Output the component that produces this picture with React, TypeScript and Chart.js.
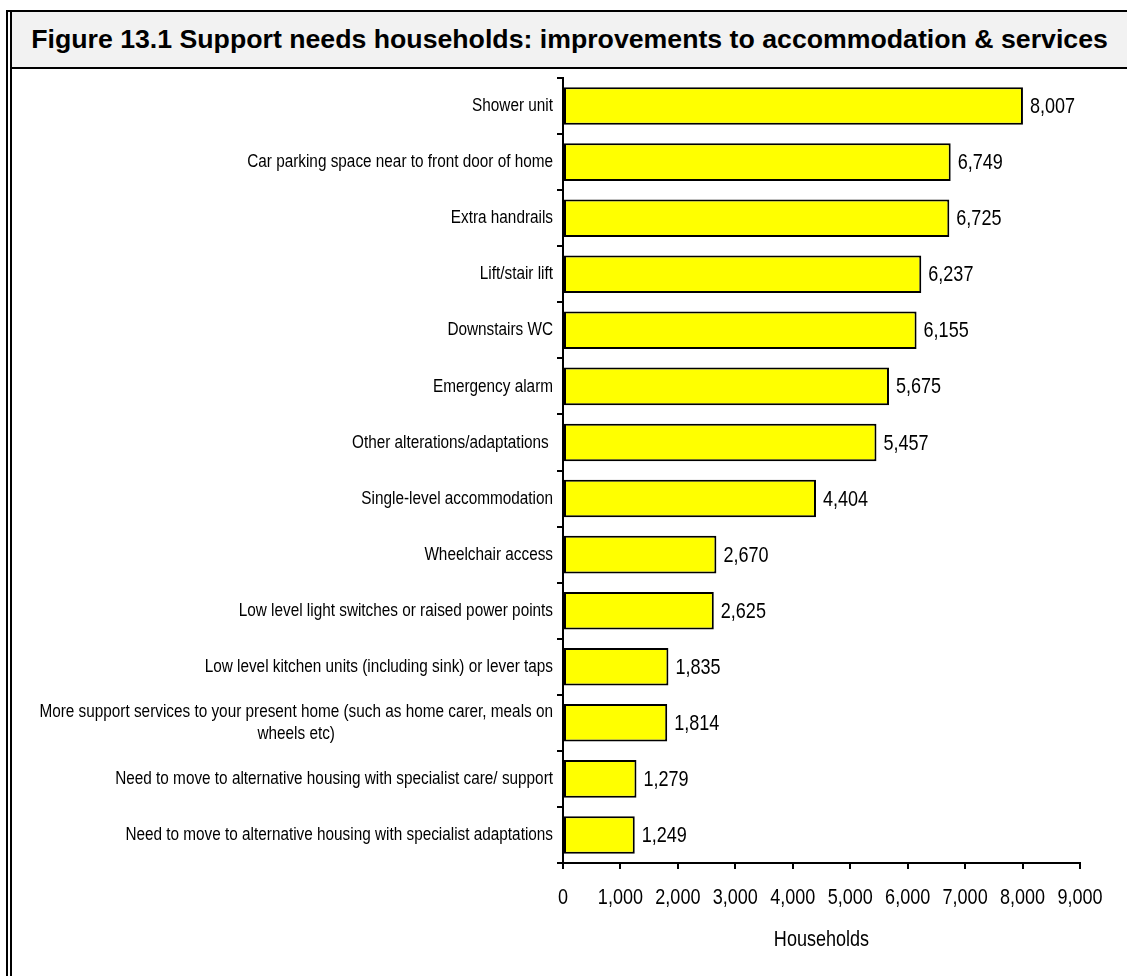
import React, { useEffect, useRef } from "react";
import { Chart, registerables } from "chart.js";

Chart.register(...registerables);

const FONT = "'Liberation Sans', Arial, Helvetica, sans-serif";
const NARROW = 0.82; // horizontal squeeze to mimic a narrow sans face

const titleText = "Figure 13.1 Support needs households: improvements to accommodation & services";
const axisTitle = "Households";

const categories: (string | string[])[] = [
  "Shower unit",
  "Car parking space near to front door of home",
  "Extra handrails",
  "Lift/stair lift",
  "Downstairs WC",
  "Emergency alarm",
  "Other alterations/adaptations ",
  "Single-level accommodation",
  "Wheelchair access",
  "Low level light switches or raised power points",
  "Low level kitchen units (including sink) or lever taps",
  ["More support services to your present home (such as home carer, meals on", "wheels etc)"],
  "Need to move to alternative housing with specialist care/ support",
  "Need to move to alternative housing with specialist adaptations",
];

const households = [8007, 6749, 6725, 6237, 6155, 5675, 5457, 4404, 2670, 2625, 1835, 1814, 1279, 1249];

const xTickValues = [0, 1000, 2000, 3000, 4000, 5000, 6000, 7000, 8000, 9000];

const fmt = (v: number) => v.toLocaleString("en-US");

function drawNarrow(ctx: CanvasRenderingContext2D, text: string, x: number, y: number, align: CanvasTextAlign) {
  ctx.save();
  ctx.translate(x, y);
  ctx.scale(NARROW, 1);
  ctx.textAlign = align;
  ctx.fillText(text, 0, 0);
  ctx.restore();
}

const labelPlugin = {
  id: "customLabels",
  afterDraw(chart: any) {
    const ctx = chart.ctx as CanvasRenderingContext2D;
    const yScale = chart.scales.y;
    const xScale = chart.scales.x;
    const meta = chart.getDatasetMeta(0);
    ctx.save();
    ctx.fillStyle = "#000";
    ctx.textBaseline = "middle";

    // category labels
    ctx.font = `18.7px ${FONT}`;
    const right = yScale.right - 6 - 4;
    categories.forEach((lab, i) => {
      const cy = yScale.getPixelForValue(i);
      if (Array.isArray(lab)) {
        const maxW = Math.max(...lab.map((l) => ctx.measureText(l).width)) * NARROW;
        const cx = right - maxW / 2;
        lab.forEach((l, k) => drawNarrow(ctx, l, cx, cy + (k - (lab.length - 1) / 2) * 21.5, "center"));
      } else {
        drawNarrow(ctx, lab, right, cy, "right");
      }
    });

    // value labels
    ctx.font = `22px ${FONT}`;
    meta.data.forEach((bar: any, i: number) => {
      drawNarrow(ctx, fmt(households[i]), bar.x + 7, bar.y + 1, "left");
    });

    // x tick labels
    const tickY = xScale.top + 6 + 16 + 13;
    xTickValues.forEach((v) => {
      drawNarrow(ctx, fmt(v), xScale.getPixelForValue(v), tickY, "center");
    });

    // x axis title
    const area = chart.chartArea;
    drawNarrow(ctx, axisTitle, (area.left + area.right) / 2, xScale.bottom - 23 - 13, "center");

    ctx.restore();
  },
};

export default function App() {
  const canvasRef = useRef<HTMLCanvasElement | null>(null);

  useEffect(() => {
    document.body.style.margin = "0";
    document.body.style.overflow = "hidden";
    const canvas = canvasRef.current;
    if (!canvas) return;
    const chart = new Chart(canvas, {
      type: "bar",
      data: {
        labels: categories as any,
        datasets: [
          {
            data: households,
            backgroundColor: "#ffff00",
            borderColor: "#000000",
            borderWidth: 2,
            borderSkipped: false,
            barPercentage: 0.67,
            categoryPercentage: 1,
          },
        ],
      },
      options: {
        indexAxis: "y",
        responsive: false,
        animation: false,
        devicePixelRatio: 1,
        layout: { padding: { top: 9, right: 47, left: 0, bottom: 0 } },
        plugins: {
          legend: { display: false },
          tooltip: { enabled: false },
        },
        scales: {
          y: {
            type: "category",
            grid: {
              display: true,
              drawOnChartArea: false,
              drawTicks: true,
              tickLength: 6,
              color: "#000",
              lineWidth: 2,
              offset: true,
            },
            border: { display: true, color: "#000", width: 2 },
            ticks: { display: false },
            afterFit(s: any) {
              s.width = 551;
              s.paddingTop = 0;
              s.paddingBottom = 0;
            },
          },
          x: {
            type: "linear",
            min: 0,
            max: 9000,
            afterBuildTicks(s: any) {
              s.ticks = xTickValues.map((v) => ({ value: v }));
            },
            ticks: { display: false },
            grid: {
              display: true,
              drawOnChartArea: false,
              drawTicks: true,
              tickLength: 6,
              color: "#000",
              lineWidth: 2,
            },
            border: { display: true, color: "#000", width: 2 },
            title: { display: false },
            afterFit(s: any) {
              s.height = 113;
              s.paddingLeft = 0;
              s.paddingRight = 0;
            },
          },
        },
      } as any,
      plugins: [labelPlugin],
    });
    return () => chart.destroy();
  }, []);

  return (
    <div style={{ position: "absolute", left: 0, top: 0, width: 1127, height: 976, overflow: "hidden", background: "#fff" }}>
      <div style={{ position: "absolute", left: 6, top: 10, width: 2, height: 966, background: "#000" }} />
      <div style={{ position: "absolute", left: 10, top: 10, width: 2, height: 966, background: "#000" }} />
      <div style={{ position: "absolute", left: 6, top: 10, width: 1121, height: 2, background: "#000" }} />
      <div
        style={{
          position: "absolute",
          left: 12,
          top: 12,
          width: 1115,
          height: 55,
          background: "#f2f2f2",
          display: "flex",
          alignItems: "center",
          justifyContent: "center",
          fontFamily: FONT,
          fontWeight: "bold",
          fontSize: 26.7,
          color: "#000",
          whiteSpace: "nowrap",
        }}
      >
        {titleText}
      </div>
      <div style={{ position: "absolute", left: 10, top: 67, width: 1117, height: 2, background: "#000" }} />
      <canvas ref={canvasRef} width={1115} height={907} style={{ position: "absolute", left: 12, top: 69, width: 1115, height: 907 }} />
    </div>
  );
}
